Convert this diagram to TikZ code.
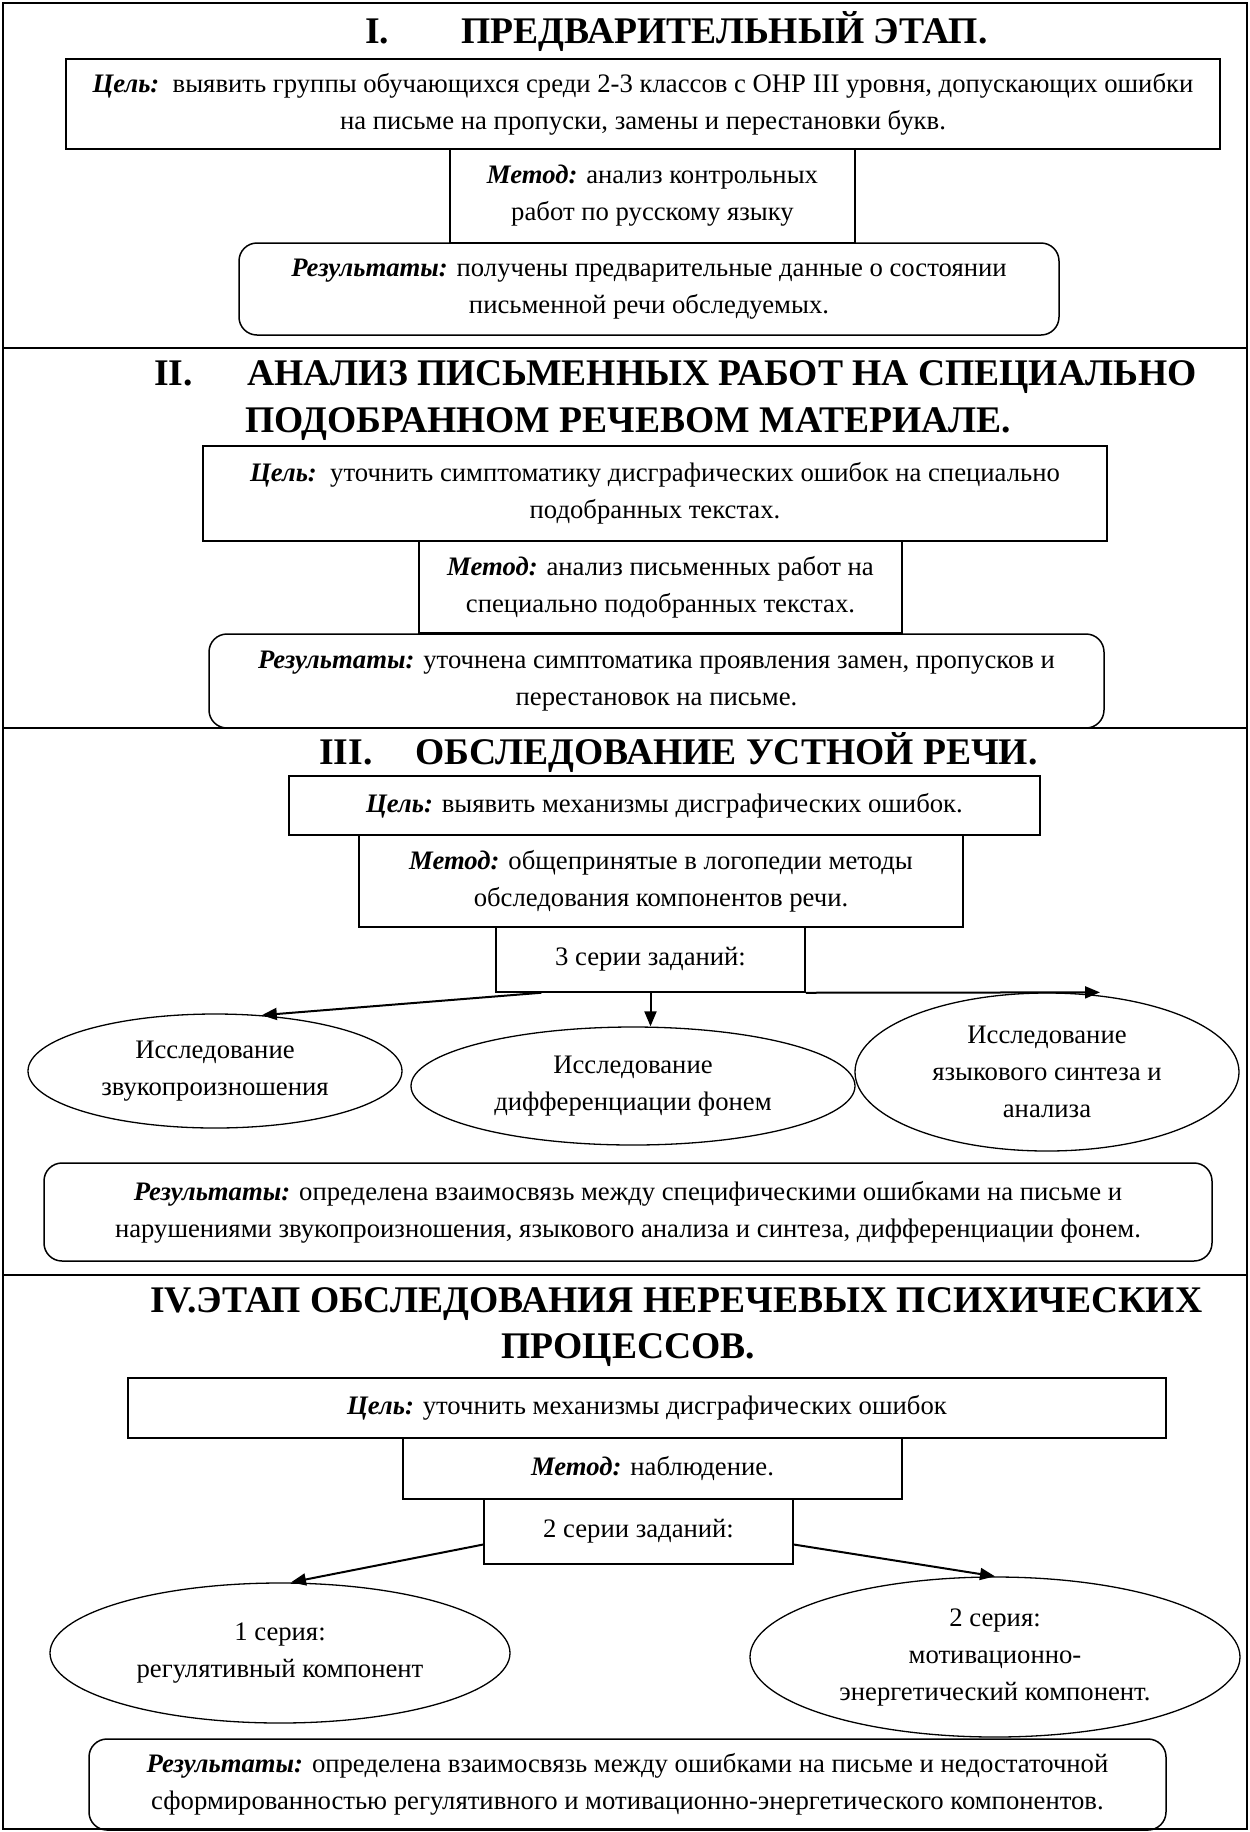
\documentclass[tikz,border=0pt]{standalone}
\usepackage{fontspec}
\setmainfont{Liberation Serif}
\usetikzlibrary{arrows.meta,shapes.geometric,calc}
\newcommand\bodyfont{\fontsize{26.7}{37}\selectfont}
\newcommand\headfont{\fontsize{37.6}{47}\selectfont\bfseries}
\newcommand\lab[1]{\textbf{\textit{#1}}}
\tikzset{
 box/.style={draw, line width=1.5pt, align=center, inner sep=0pt, font=\bodyfont},
 rbox/.style={box, rounded corners=18pt},
 ell/.style={ellipse, draw, line width=1.3pt, align=center, inner sep=0pt, font=\bodyfont},
 head/.style={font=\headfont, inner sep=0pt, anchor=base west},
 headc/.style={font=\headfont, inner sep=0pt, anchor=base},
 arr/.style={line width=2pt, -{Triangle[length=15pt,width=12pt]}},
 frame/.style={line width=2.5pt}
}
\begin{document}
\begin{tikzpicture}[x=1pt,y=-1pt]
\useasboundingbox (0,0) rectangle (1250,1832);
% outer frame and dividers
\draw[frame] (3,3) rectangle (1247,1829);
\draw[frame] (3,348) -- (1247,348);
\draw[frame] (3,728) -- (1247,728);
\draw[frame] (3,1275) -- (1247,1275);

% ---------- Section I ----------
\node[head] (h1n) at (365,43) {I.};
\node[head] (h1t) at (461,43) {ПРЕДВАРИТЕЛЬНЫЙ ЭТАП.};
\node[box, minimum width=1154pt, minimum height=90pt] (c1) at (643,104)
 {\lab{Цель:}\ \ выявить группы обучающихся среди 2-3 классов с ОНР III уровня, допускающих ошибки\\ на письме на пропуски, замены и перестановки букв.};
\node[box, minimum width=405pt, minimum height=94pt] (m1) at (652.5,196)
 {\lab{Метод:} анализ контрольных\\ работ по русскому языку};
\node[rbox, minimum width=820pt, minimum height=92pt] (r1) at (649,289)
 {\lab{Результаты:} получены предварительные данные о состоянии\\ письменной речи обследуемых.};

% ---------- Section II ----------
\node[head] (h2n) at (154,385) {II.};
\node[head] (h2a) at (247,385) {АНАЛИЗ ПИСЬМЕННЫХ РАБОТ НА СПЕЦИАЛЬНО};
\node[head] (h2b) at (245,432) {ПОДОБРАННОМ РЕЧЕВОМ МАТЕРИАЛЕ.};
\node[box, minimum width=904pt, minimum height=95pt] (c2) at (655,493.5)
 {\lab{Цель:}\ \ уточнить симптоматику дисграфических ошибок на специально\\ подобранных текстах.};
\node[box, minimum width=483pt, minimum height=92pt] (m2) at (660.5,587)
 {\lab{Метод:} анализ письменных работ на\\ специально подобранных текстах.};
\node[rbox, minimum width=895pt, minimum height=94pt] (r2) at (656.5,681)
 {\lab{Результаты:} уточнена симптоматика проявления замен, пропусков и\\ перестановок на письме.};

% ---------- Section III ----------
\node[head] (h3n) at (319,764) {III.};
\node[head] (h3t) at (415,764) {ОБСЛЕДОВАНИЕ УСТНОЙ РЕЧИ.};
\node[box, minimum width=751pt, minimum height=59pt] (c3) at (664.5,805.5)
 {\lab{Цель:} выявить механизмы дисграфических ошибок.};
\node[box, minimum width=604pt, minimum height=92pt] (m3) at (661,881)
 {\lab{Метод:} общепринятые в логопедии методы\\ обследования компонентов речи.};
\node[box, minimum width=309pt, minimum height=65pt] (s3) at (650.5,959.5)
 {3 серии заданий:};
\node[ell, minimum width=374pt, minimum height=114pt] (e1) at (215,1071)
 {Исследование\\ звукопроизношения};
\node[ell, minimum width=444pt, minimum height=118pt] (e2) at (633,1086)
 {Исследование\\ дифференциации фонем};
\node[ell, minimum width=384pt, minimum height=158pt] (e3) at (1047,1072)
 {Исследование\\ языкового синтеза и\\ анализа};
\draw[arr] ([xshift=46pt]s3.south west) -- (e1.50);
\draw[arr] (s3.south) -- (s3.south |- e2.north);
\draw[arr] (s3.south east) -- ([xshift=53pt]e3.north);
\node[rbox, minimum width=1168pt, minimum height=98pt] (r3) at (628,1212)
 {\lab{Результаты:} определена взаимосвязь между специфическими ошибками на письме и\\ нарушениями звукопроизношения, языкового анализа и синтеза, дифференциации фонем.};

% ---------- Section IV ----------
\node[head] (h4a) at (150,1312) {IV.ЭТАП ОБСЛЕДОВАНИЯ НЕРЕЧЕВЫХ ПСИХИЧЕСКИХ};
\node[headc] (h4b) at (628.5,1358) {ПРОЦЕССОВ.};
\node[box, minimum width=1038pt, minimum height=60pt] (c4) at (647,1408)
 {\lab{Цель:} уточнить механизмы дисграфических ошибок};
\node[box, minimum width=499pt, minimum height=61pt] (m4) at (652.5,1468.5)
 {\lab{Метод:} наблюдение.};
\node[box, minimum width=309pt, minimum height=65pt] (s4) at (638.5,1531.5)
 {2 серии заданий:};
\node[ell, minimum width=460pt, minimum height=140pt] (f1) at (280,1653)
 {1 серия:\\ регулятивный компонент};
\node[ell, minimum width=490pt, minimum height=160pt] (f2) at (995,1657)
 {2 серия:\\ мотивационно-\\ энергетический компонент.};
\draw[arr] ([yshift=-13pt]s4.west) -- ([xshift=11pt]f1.north);
\draw[arr] ([yshift=-13pt]s4.east) -- (f2.north);
\node[rbox, minimum width=1077pt, minimum height=91pt] (r4) at (627.5,1784.5)
 {\lab{Результаты:} определена взаимосвязь между ошибками на письме и недостаточной\\ сформированностью регулятивного и мотивационно-энергетического компонентов.};
\end{tikzpicture}
\end{document}
